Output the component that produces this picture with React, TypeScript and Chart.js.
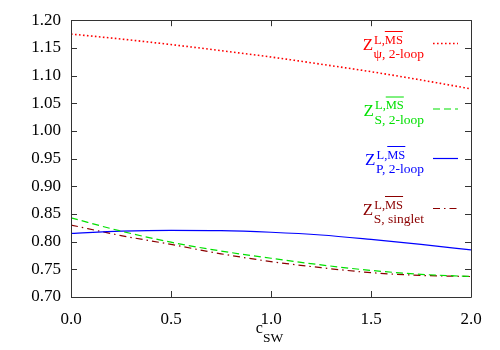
import React, { useEffect, useRef } from "react";
import { Chart, registerables } from "chart.js";

Chart.register(...registerables);

const cswValues = [0, 0.25, 0.5, 0.75, 1.0, 1.25, 1.5, 1.75, 2.0];
const zPsi2Loop = [1.175, 1.166, 1.156, 1.145, 1.1335, 1.1205, 1.107, 1.092, 1.076];
const zS2Loop = [0.843, 0.819, 0.799, 0.783, 0.770, 0.758, 0.748, 0.741, 0.737];
const zP2Loop = [0.815, 0.819, 0.8205, 0.820, 0.817, 0.812, 0.804, 0.795, 0.785];
const zSSinglet = [0.830, 0.811, 0.795, 0.778, 0.764, 0.753, 0.744, 0.739, 0.737];

const xTickLabels = ["0.0", "0.5", "1.0", "1.5", "2.0"];
const yTickLabels = ["0.70", "0.75", "0.80", "0.85", "0.90", "0.95", "1.00", "1.05", "1.10", "1.15", "1.20"];

const seriesSubscripts = ["ψ, 2-loop", "S, 2-loop", "P, 2-loop", "S, singlet"];
const seriesColors = ["#ff0000", "#00e000", "#0000ff", "#8b0000"];
const seriesDashes = [[1.6, 2.4], [7, 4], [], [7, 4, 1.5, 4]];
const seriesValues = [zPsi2Loop, zS2Loop, zP2Loop, zSSinglet];
const legendLineY = [43.5, 109, 158.5, 208.5];

const FAMILY = "Liberation Serif";
const font = (size: number) => `${size}px "${FAMILY}"`;

const framePlugin = {
  id: "gnuplotFrame",
  afterDraw(chart: any) {
    const { ctx, chartArea } = chart;
    const { left, right, top, bottom } = chartArea;
    const xs = chart.scales.x;
    const ys = chart.scales.y;
    ctx.save();
    ctx.strokeStyle = "#333";
    ctx.lineWidth = 1;
    ctx.setLineDash([]);
    ctx.beginPath();
    ctx.rect(Math.round(left) + 0.5, Math.round(top) + 0.5, Math.round(right - left), Math.round(bottom - top));
    ctx.stroke();
    const tl = 6;
    ctx.beginPath();
    xs.ticks.forEach((t: any) => {
      const px = Math.round(xs.getPixelForValue(t.value)) + 0.5;
      ctx.moveTo(px, bottom);
      ctx.lineTo(px, bottom - tl);
      ctx.moveTo(px, top);
      ctx.lineTo(px, top + tl);
    });
    ys.ticks.forEach((t: any) => {
      const py = Math.round(ys.getPixelForValue(t.value)) + 0.5;
      ctx.moveTo(left, py);
      ctx.lineTo(left + tl, py);
      ctx.moveTo(right, py);
      ctx.lineTo(right - tl, py);
    });
    ctx.stroke();

    // x axis title c_SW
    const cx = (left + right) / 2;
    ctx.fillStyle = "#000";
    ctx.textAlign = "left";
    ctx.textBaseline = "alphabetic";
    ctx.font = font(16);
    const cW = ctx.measureText("c").width;
    ctx.font = font(13.5);
    const swW = ctx.measureText("SW").width;
    const start = cx - (cW + swW) / 2 - 1.5;
    ctx.font = font(16);
    ctx.fillText("c", start, 333);
    ctx.font = font(13.5);
    ctx.fillText("SW", start + cW, 342);

    // legend
    const textRight = 424;
    chart.data.datasets.forEach((ds: any, i: number) => {
      const yl = legendLineY[i];
      const color = seriesColors[i];
      ctx.fillStyle = color;
      ctx.font = font(12.5);
      const supA = "L,";
      const supB = "MS";
      const supAW = ctx.measureText(supA).width;
      const supBW = ctx.measureText(supB).width;
      ctx.font = font(13.5);
      const subW = ctx.measureText(seriesSubscripts[i]).width;
      const blockW = Math.max(supAW + supBW, subW);
      const blockX = textRight - blockW;
      ctx.fillText(seriesSubscripts[i], blockX, yl + 14.8);
      ctx.font = font(12.5);
      ctx.fillText(supA, blockX + 0.5, yl);
      ctx.fillText(supB, blockX + 0.5 + supAW, yl);
      ctx.strokeStyle = color;
      ctx.lineWidth = 1;
      ctx.setLineDash([]);
      ctx.beginPath();
      ctx.moveTo(blockX + 0.5 + supAW, yl - 12);
      ctx.lineTo(blockX + 0.5 + supAW + supBW, yl - 12);
      ctx.stroke();
      ctx.font = font(17);
      ctx.textAlign = "right";
      ctx.fillText("Z", blockX - 0.5, yl + 6.5);
      ctx.textAlign = "left";
      ctx.strokeStyle = color;
      ctx.lineWidth = ds.borderWidth;
      ctx.setLineDash(seriesDashes[i]);
      ctx.beginPath();
      ctx.moveTo(433, yl);
      ctx.lineTo(458, yl);
      ctx.stroke();
    });
    ctx.restore();
  },
};

export default function App() {
  const canvasRef = useRef<HTMLCanvasElement | null>(null);

  useEffect(() => {
    if (!canvasRef.current) return;
    const chart = new Chart(canvasRef.current, {
      type: "line",
      data: {
        datasets: seriesValues.map((vals, i) => ({
          label: seriesSubscripts[i],
          data: cswValues.map((x, j) => ({ x, y: vals[j] })),
          borderColor: seriesColors[i],
          borderWidth: i === 0 ? 1.6 : 1.2,
          borderDash: seriesDashes[i],
          pointRadius: 0,
          fill: false,
          cubicInterpolationMode: "monotone" as const,
        })),
      },
      options: {
        animation: false,
        responsive: false,
        layout: { padding: { left: 0, right: 29, top: 20, bottom: 0 } },
        plugins: { legend: { display: false }, tooltip: { enabled: false } },
        scales: {
          x: {
            type: "linear",
            min: 0,
            max: 2,
            grid: { display: false, drawTicks: false },
            border: { display: false },
            afterFit: (s: any) => {
              s.height = 53;
            },
            afterBuildTicks: (s: any) => {
              s.ticks = xTickLabels.map((l) => ({ value: parseFloat(l) }));
            },
            ticks: {
              color: "#000",
              padding: 12,
              maxRotation: 0,
              font: { family: FAMILY, size: 17 },
              callback: (v: any) => Number(v).toFixed(1),
            },
          },
          y: {
            type: "linear",
            min: 0.7,
            max: 1.2,
            grid: { display: false, drawTicks: false },
            border: { display: false },
            afterFit: (s: any) => {
              s.width = 71;
            },
            afterBuildTicks: (s: any) => {
              s.ticks = yTickLabels.map((l) => ({ value: parseFloat(l) }));
            },
            ticks: {
              color: "#000",
              padding: 10,
              font: { family: FAMILY, size: 17 },
              callback: (v: any) => Number(v).toFixed(2),
            },
          },
        },
      },
      plugins: [framePlugin],
    });
    return () => chart.destroy();
  }, []);

  return (
    <div>
      <canvas ref={canvasRef} width={500} height={350} style={{ position: "absolute", left: 0, top: 0 }} />
    </div>
  );
}
